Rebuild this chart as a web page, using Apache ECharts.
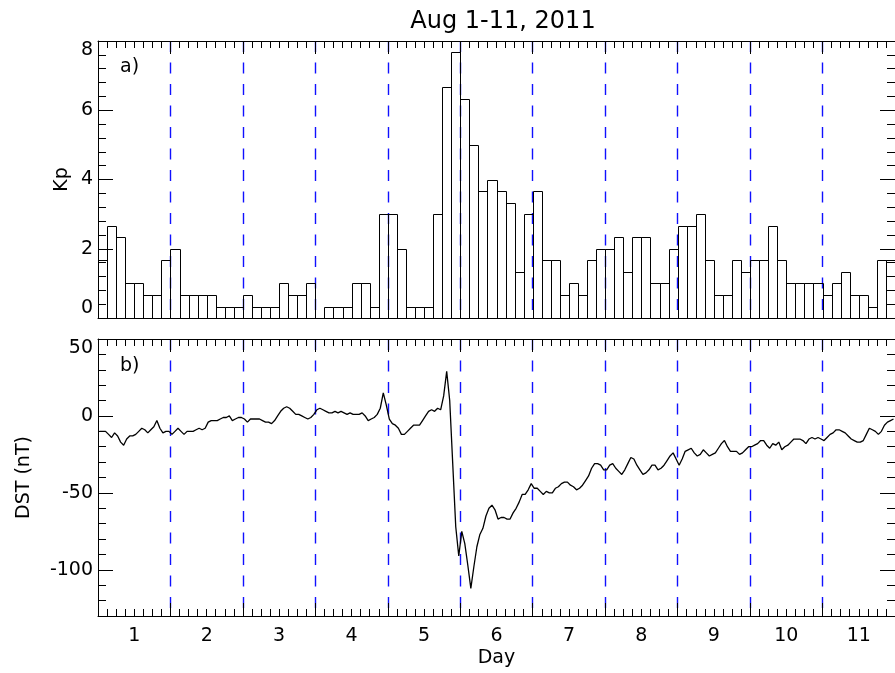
<!DOCTYPE html>
<html>
<head>
<meta charset="utf-8">
<title>Aug 1-11, 2011</title>
<script src="https://cdn.jsdelivr.net/npm/echarts@6/dist/echarts.min.js"></script>
<style>
html, body { margin: 0; padding: 0; background: #fff; }
#main { width: 895px; height: 673px; }
</style>
</head>
<body>
<div id="main"></div>
<script>
// Kp, 3-hour bins from Aug 1 00 UT (day axis: 0.5 = start of Aug 1)
var kpValues = [
    1.67, 2.67, 2.33, 1, 1, 0.67, 0.67, 1.67,
    2, 0.67, 0.67, 0.67, 0.67, 0.33, 0.33, 0.33,
    0.67, 0.33, 0.33, 0.33, 1, 0.67, 0.67, 1,
    0, 0.33, 0.33, 0.33, 1, 1, 0.33, 3,
    3, 2, 0.33, 0.33, 0.33, 3, 6.67, 7.67,
    6.33, 5, 3.67, 4, 3.67, 3.33, 1.33, 3,
    3.67, 1.67, 1.67, 0.67, 1, 0.67, 1.67, 2,
    2, 2.33, 1.33, 2.33, 2.33, 1, 1, 2,
    2.67, 2.67, 3, 1.67, 0.67, 0.67, 1.67, 1.33,
    1.67, 1.67, 2.67, 1.67, 1, 1, 1, 1,
    0.67, 1, 1.33, 0.67, 0.67, 0.33, 1.67, 1.67
];

// Dst (nT), hourly values
var dstValues = [
    -10, -10, -10, -12, -14, -11, -13, -17, -19, -15, -13, -13, -12, -10, -8, -9, -11, -9, -7, -3, -8, -11, -10, -10,
    -12, -10, -8, -10, -12, -10, -10, -10, -9, -8, -9, -8, -4, -3, -3, -3, -2, -1, -1, 0, -3, -2, -1, -1,
    -2, -4, -2, -2, -2, -2, -3, -4, -4, -5, -3, 0, 3, 5, 6, 5, 3, 1, 1, 0, -1, -2, -1, 1,
    4, 5, 4, 3, 2, 2, 3, 2, 3, 2, 1, 2, 1, 1, 1, 2, 0, -3, -2, -1, 1, 5, 15, 7,
    -2, -5, -6, -8, -12, -12, -10, -8, -6, -6, -6, -3, 0, 3, 4, 3, 5, 4, 13, 29, 10, -31, -72, -91,
    -75, -83, -97, -112, -98, -85, -77, -73, -65, -60, -58, -61, -67, -66, -66, -67, -67, -63, -60, -56, -51, -51, -48, -44,
    -47, -47, -49, -51, -49, -50, -50, -47, -46, -44, -43, -43, -45, -46, -48, -47, -45, -42, -39, -34, -31, -31, -32, -35,
    -35, -32, -31, -34, -36, -38, -35, -31, -27, -28, -32, -35, -38, -37, -35, -32, -32, -35, -34, -32, -29, -26, -24, -28,
    -32, -28, -23, -22, -21, -24, -26, -25, -22, -24, -26, -25, -24, -21, -18, -16, -20, -23, -23, -23, -25, -24, -22, -20,
    -20, -19, -18, -16, -16, -19, -21, -18, -19, -17, -22, -20, -19, -17, -15, -15, -15, -16, -18, -15, -14, -15, -14, -15,
    -16, -14, -12, -11, -9, -9, -10, -11, -13, -15, -16, -17, -17, -16, -12, -8, -9, -10, -12, -10, -6, -4, -3, -2
];

var dayTicks = [1, 2, 3, 4, 5, 6, 7, 8, 9, 10, 11];
var dstMajorTicks = [-100, -50, 0, 50];

var FONT = 'DejaVu Sans';
var dayStart = 0.5, dayEnd = 11.5;

// bins -> [start, end, value] in days
var kpData = kpValues.map(function (v, i) {
    return [dayStart + i / 8, dayStart + (i + 1) / 8, v];
});
// hourly points at mid-hour
var dstData = dstValues.map(function (v, i) {
    return [dayStart + (i + 0.5) / 24, v];
});

function renderKpBar(params, api) {
    var p0 = api.coord([api.value(0), api.value(2)]);
    var p1 = api.coord([api.value(1), 0]);
    var x0 = Math.round(p0[0]) + 0.5, x1 = Math.round(p1[0]) + 0.5;
    var y0 = Math.round(p0[1]) + 0.5, y1 = Math.round(p1[1]) + 0.5;
    return {
        type: 'rect',
        shape: { x: x0, y: y0, width: x1 - x0, height: y1 - y0 },
        style: { fill: 'none', stroke: '#000', lineWidth: 1 }
    };
}

var axisLine = { show: true, onZero: false, lineStyle: { color: '#000', width: 1 } };
var labelStyle = { color: '#000', fontFamily: FONT, fontSize: 19 };
var dashed = {
    show: true, showMinLine: false, showMaxLine: false,
    lineStyle: { color: '#1010ff', width: 1.4, type: [11, 10.5] }
};

function dayAxis(grid, pos, opts) {
    var ax = {
        type: 'value', gridIndex: grid, position: pos,
        min: dayStart, max: dayEnd, interval: 1,
        axisLine: axisLine,
        axisTick: { show: true, inside: true, length: 13, lineStyle: { color: '#000' } },
        minorTick: { show: true, splitNumber: 8, length: 7, lineStyle: { color: '#000' } },
        axisLabel: { show: false },
        splitLine: { show: false }
    };
    return Object.assign(ax, opts || {});
}

var myChart = echarts.init(document.getElementById('main'));

var option = {
    backgroundColor: '#fff',
    animation: false,
    title: {
        text: 'Aug 1-11, 2011',
        left: 498, top: 5, textAlign: 'center',
        textStyle: { color: '#000', fontFamily: FONT, fontSize: 24, fontWeight: 'normal' }
    },
    graphic: [
        { type: 'text', left: 120, top: 58, style: { text: 'a)', fill: '#000', font: '19px "DejaVu Sans"' } },
        { type: 'text', left: 120, top: 357, style: { text: 'b)', fill: '#000', font: '19px "DejaVu Sans"' } }
    ],
    grid: [
        { left: 98, top: 41, width: 806, height: 277 },
        { left: 98, top: 339, width: 806, height: 277 }
    ],
    xAxis: [
        dayAxis(0, 'top', { splitLine: dashed }),
        dayAxis(0, 'bottom', { axisTick: { show: false }, minorTick: { show: false } }),
        dayAxis(1, 'top', { splitLine: dashed }),
        dayAxis(1, 'bottom', {
            axisLabel: Object.assign({ show: true, customValues: dayTicks, margin: 11 }, labelStyle),
            name: 'Day', nameLocation: 'middle', nameGap: 33,
            nameTextStyle: labelStyle
        })
    ],
    yAxis: [
        {
            type: 'value', gridIndex: 0, position: 'left',
            min: 0, max: 8, interval: 2,
            axisLine: axisLine,
            axisTick: { inside: true, length: 15, lineStyle: { color: '#000' } },
            minorTick: { show: true, splitNumber: 5, length: 8, lineStyle: { color: '#000' } },
            axisLabel: Object.assign({ margin: 5, verticalAlignMinLabel: 'bottom', verticalAlignMaxLabel: 'top' }, labelStyle),
            splitLine: { show: false },
            name: 'Kp', nameLocation: 'middle', nameGap: 26, nameMoveOverlap: false,
            nameTextStyle: labelStyle
        },
        {
            type: 'value', gridIndex: 0, position: 'right',
            min: 0, max: 8, interval: 2,
            axisLine: axisLine,
            axisTick: { inside: true, length: 15, lineStyle: { color: '#000' } },
            minorTick: { show: true, splitNumber: 5, length: 8, lineStyle: { color: '#000' } },
            axisLabel: { show: false },
            splitLine: { show: false }
        },
        {
            type: 'value', gridIndex: 1, position: 'left',
            min: -130, max: 50, interval: 10,
            axisLine: axisLine,
            axisTick: { inside: true, length: 8, lineStyle: { color: '#000' } },
            axisLabel: { show: false },
            splitLine: { show: false }
        },
        {
            type: 'value', gridIndex: 1, position: 'left',
            min: -130, max: 50,
            axisLine: { show: false, onZero: false },
            axisTick: { inside: true, length: 15, customValues: dstMajorTicks, lineStyle: { color: '#000' } },
            axisLabel: Object.assign({ margin: 5, customValues: dstMajorTicks, verticalAlignMaxLabel: 'top' }, labelStyle),
            splitLine: { show: false },
            name: 'DST (nT)', nameLocation: 'middle', nameGap: 64, nameTextStyle: labelStyle
        },
        {
            type: 'value', gridIndex: 1, position: 'right',
            min: -130, max: 50, interval: 10,
            axisLine: axisLine,
            axisTick: { inside: true, length: 8, lineStyle: { color: '#000' } },
            axisLabel: { show: false },
            splitLine: { show: false }
        },
        {
            type: 'value', gridIndex: 1, position: 'right',
            min: -130, max: 50,
            axisLine: { show: false, onZero: false },
            axisTick: { inside: true, length: 15, customValues: dstMajorTicks, lineStyle: { color: '#000' } },
            axisLabel: { show: false },
            splitLine: { show: false }
        }
    ],
    series: [
        {
            name: 'Kp', type: 'custom',
            xAxisIndex: 1, yAxisIndex: 0,
            renderItem: renderKpBar,
            encode: { x: [0, 1], y: 2 },
            data: kpData,
            z: 3
        },
        {
            name: 'DST', type: 'line',
            xAxisIndex: 3, yAxisIndex: 2,
            data: dstData,
            symbol: 'none',
            lineStyle: { color: '#000', width: 1.3 },
            z: 3
        }
    ]
};

myChart.setOption(option);
</script>
</body>
</html>
